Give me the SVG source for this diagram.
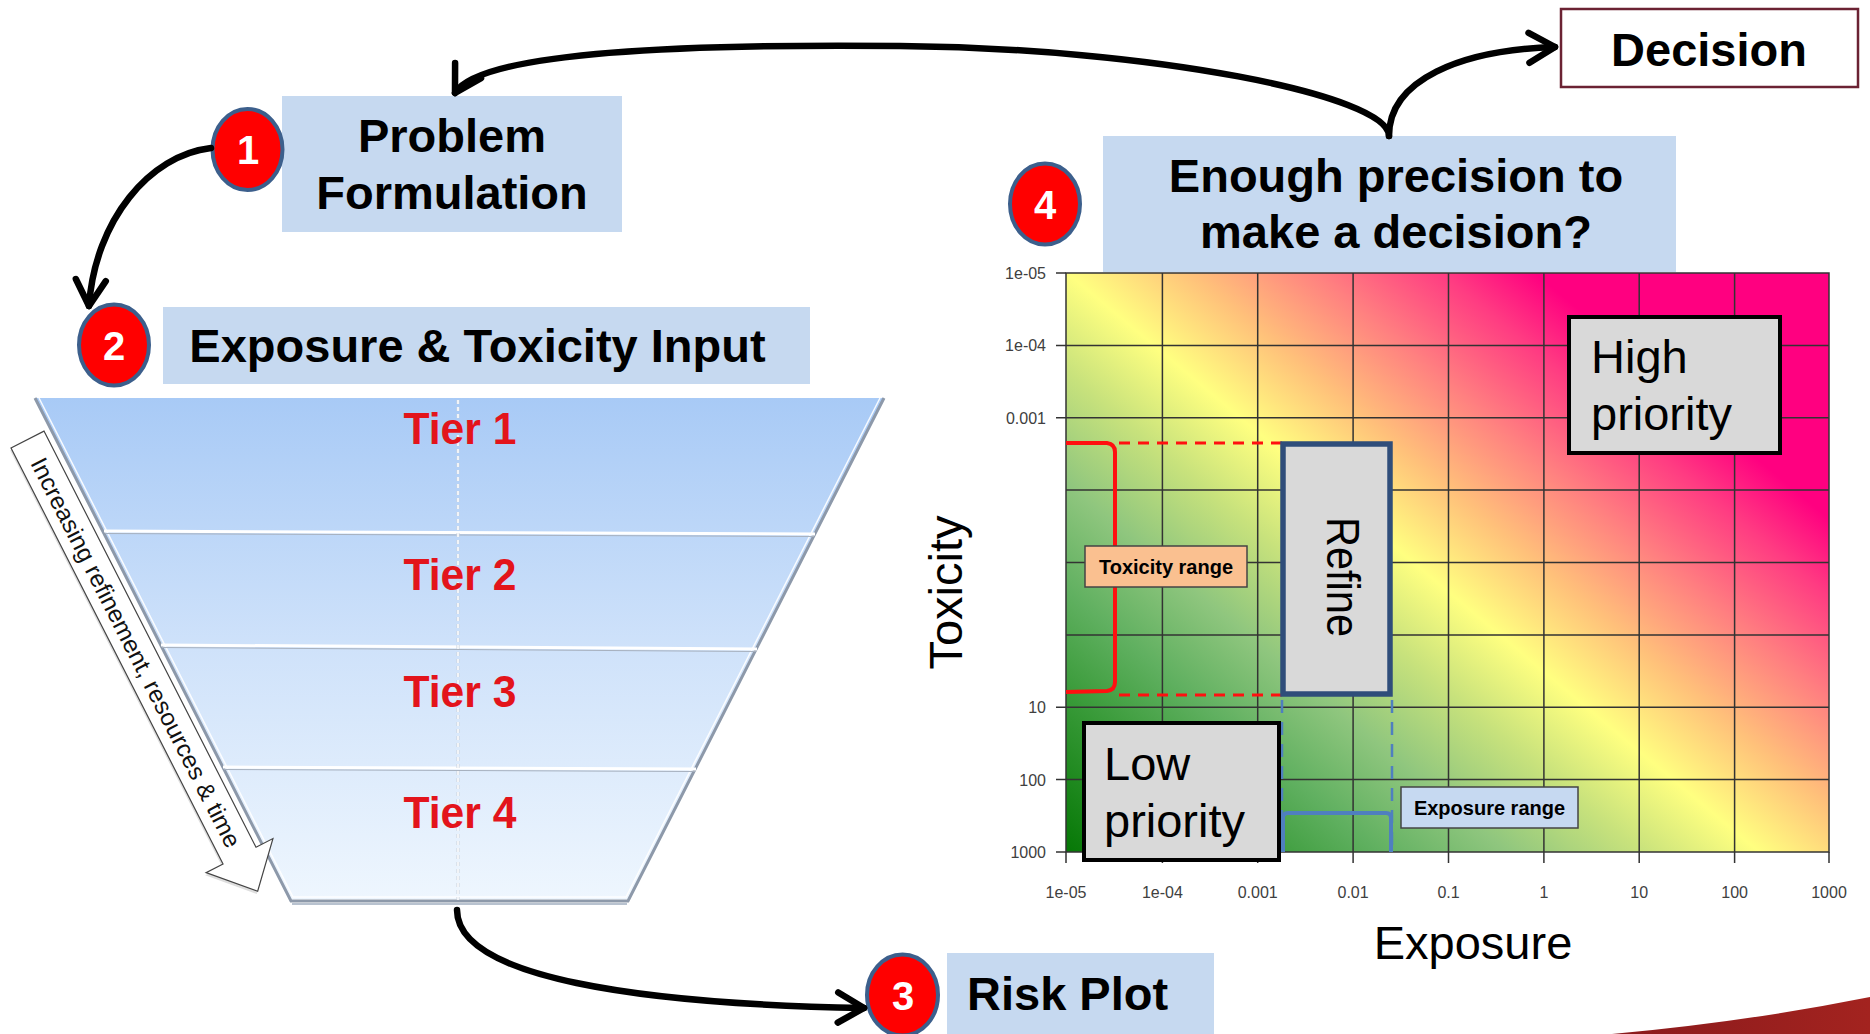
<svg xmlns="http://www.w3.org/2000/svg" width="1870" height="1034" viewBox="0 0 1870 1034">
<style>
text{font-family:"Liberation Sans",Arial,sans-serif}
.box{fill:#c6d9f0}
.hb{font-weight:bold;font-size:47px;fill:#000}
.num{font-weight:bold;font-size:40px;fill:#fff;text-anchor:middle}
.badge{fill:#ff0000;stroke:#3c5f8c;stroke-width:4}
.tier{font-weight:bold;font-size:44px;fill:#e3141b;text-anchor:middle}
.grid{stroke:#333;stroke-width:1.5;fill:none}
.tick{font-size:16px;fill:#404040}
.gbox{fill:#d9d9d9;stroke:#000;stroke-width:4}
.big{font-size:47px;fill:#000}
.conn{fill:none;stroke:#000;stroke-width:6.5;stroke-linecap:round}
</style>
<defs>
<marker id="arr" markerUnits="userSpaceOnUse" markerWidth="70" markerHeight="70" viewBox="-35 -35 70 70" refX="0" refY="0" orient="auto" overflow="visible">
<path d="M-26,-15 L0,0 L-26,15" fill="none" stroke="#000" stroke-width="6.5" stroke-linecap="round" stroke-linejoin="round"/>
</marker>
<linearGradient id="heat" gradientUnits="userSpaceOnUse" x1="784.5" y1="616.3" x2="1262.5" y2="44.9">
<stop offset="0" stop-color="#067806"/>
<stop offset="0.162" stop-color="#389a38"/>
<stop offset="0.269" stop-color="#60b060"/>
<stop offset="0.379" stop-color="#8fc67e"/>
<stop offset="0.495" stop-color="#c8e27c"/>
<stop offset="0.597" stop-color="#ffff80"/>
<stop offset="0.705" stop-color="#ffc07a"/>
<stop offset="0.812" stop-color="#ff8080"/>
<stop offset="0.92" stop-color="#ff3c82"/>
<stop offset="1" stop-color="#ff0080"/>
</linearGradient>
<linearGradient id="fun" x1="0" y1="0" x2="0" y2="1">
<stop offset="0" stop-color="#a8caf6"/>
<stop offset="0.5" stop-color="#cfe2fa"/>
<stop offset="1" stop-color="#eef6fe"/>
</linearGradient>
<linearGradient id="swoosh" x1="0" y1="0" x2="1" y2="0">
<stop offset="0" stop-color="#8a1a1c"/>
<stop offset="1" stop-color="#a3231f"/>
</linearGradient>
</defs>

<!-- funnel -->
<g id="funnel">
<polygon points="35,398 884,398 628,899 290,899" fill="url(#fun)"/>
<polyline points="35,398 291,901 628,901 884,398" fill="none" stroke="#8d99aa" stroke-width="3"/>
<polyline points="39,398 293,897 626,897 880,398" fill="none" stroke="#ffffff" stroke-width="1.5" opacity="0.9"/>
<line x1="292" y1="904" x2="627" y2="904" stroke="#b8c2cf" stroke-width="2"/>
<g stroke="#ffffff" stroke-width="3">
<line x1="104" y1="531" x2="815" y2="534"/>
<line x1="161" y1="645" x2="757" y2="649"/>
<line x1="223" y1="767" x2="696" y2="769"/>
</g>
<g stroke="#a7b1bf" stroke-width="1">
<line x1="105" y1="533.5" x2="814" y2="536.5"/>
<line x1="162" y1="647.5" x2="756" y2="651.5"/>
<line x1="224" y1="769.5" x2="695" y2="771.5"/>
</g>
<line x1="458" y1="400" x2="458" y2="900" stroke="#c9d1dc" stroke-width="3" stroke-dasharray="4 3"/>
<line x1="458" y1="400" x2="458" y2="900" stroke="#ffffff" stroke-width="1.5" stroke-dasharray="4 3"/>
<text class="tier" x="460" y="444" textLength="113" lengthAdjust="spacingAndGlyphs">Tier 1</text>
<text class="tier" x="460" y="590" textLength="113" lengthAdjust="spacingAndGlyphs">Tier 2</text>
<text class="tier" x="460" y="707" textLength="113" lengthAdjust="spacingAndGlyphs">Tier 3</text>
<text class="tier" x="460" y="828" textLength="113" lengthAdjust="spacingAndGlyphs">Tier 4</text>
</g>

<g id="refinement-arrow" transform="translate(27.5,439.5) rotate(63)">
<polygon points="2,-16.5 469,-16.5 469,-35.5 509,2 469,39.5 469,20.5 2,20.5" fill="#c8c8c8" opacity="0.6"/>
<polygon points="0,-18.5 467,-18.5 467,-37.5 507,0 467,37.5 467,18.5 0,18.5" fill="#ffffff" stroke="#444" stroke-width="1.2"/>
<text x="22" y="8.5" font-size="24" fill="#111" textLength="434" lengthAdjust="spacingAndGlyphs">Increasing refinement, resources &amp; time</text>
</g>

<!-- chart -->
<g id="risk-chart">
<rect x="1066" y="273" width="763" height="579" fill="url(#heat)"/>
<g class="grid">
<rect x="1066" y="273" width="763" height="579"/>
<path d="M1162.4,273V852M1257.7,273V852M1353.1,273V852M1448.5,273V852M1543.9,273V852M1639.2,273V852M1734.6,273V852"/>
<path d="M1066,345.4H1829M1066,417.8H1829M1066,490.1H1829M1066,562.5H1829M1066,634.9H1829M1066,707.3H1829M1066,779.6H1829"/>
<path d="M1056,273H1066M1056,345.4H1066M1056,417.8H1066M1056,707.3H1066M1056,779.6H1066M1056,852H1066"/>
<path d="M1066,852V863M1162.4,852V863M1257.7,852V863M1353.1,852V863M1448.5,852V863M1543.9,852V863M1639.2,852V863M1734.6,852V863M1829,852V863"/>
</g>
<g class="tick" text-anchor="end">
<text x="1046" y="279">1e-05</text>
<text x="1046" y="351">1e-04</text>
<text x="1046" y="424">0.001</text>
<text x="1046" y="713">10</text>
<text x="1046" y="786">100</text>
<text x="1046" y="858">1000</text>
</g>
<g class="tick" text-anchor="middle">
<text x="1066" y="898">1e-05</text>
<text x="1162.4" y="898">1e-04</text>
<text x="1257.7" y="898">0.001</text>
<text x="1353.1" y="898">0.01</text>
<text x="1448.5" y="898">0.1</text>
<text x="1543.9" y="898">1</text>
<text x="1639.2" y="898">10</text>
<text x="1734.6" y="898">100</text>
<text x="1829" y="898">1000</text>
</g>
<text class="big" text-anchor="middle" transform="translate(962,592.5) rotate(-90)">Toxicity</text>
<text class="big" x="1473" y="959" text-anchor="middle">Exposure</text>

<!-- toxicity range -->
<path d="M1066,443 L1107,443 Q1115,444 1115,452 L1115,682 Q1115,690 1107,691 L1066,692" fill="none" stroke="#ff1010" stroke-width="4"/>
<g stroke="#ff1010" stroke-width="3" stroke-dasharray="11 8">
<line x1="1119" y1="443" x2="1282" y2="443"/>
<line x1="1119" y1="695" x2="1282" y2="695"/>
</g>
<!-- exposure range -->
<g stroke="#4f7fbf" stroke-width="2.5" stroke-dasharray="13 9">
<line x1="1282" y1="700" x2="1282" y2="852"/>
<line x1="1392" y1="700" x2="1392" y2="852"/>
</g>
<path d="M1283,852 L1283,818 Q1283,813 1288,813 L1386,813 Q1391,813 1391,818 L1391,852" fill="none" stroke="#4f7fbf" stroke-width="4"/>
</g>

<g id="high-priority">
<rect class="gbox" x="1569" y="317" width="211" height="136"/>
<text class="big" x="1591" y="373">High</text>
<text class="big" x="1591" y="430">priority</text>
</g>
<g id="low-priority">
<rect class="gbox" x="1084" y="723" width="195" height="137"/>
<text class="big" x="1104" y="780">Low</text>
<text class="big" x="1104" y="837">priority</text>
</g>
<g id="refine">
<rect x="1283" y="444" width="107" height="250" fill="#d9d9d9" stroke="#2f4d7a" stroke-width="5.5"/>
<text class="big" font-size="46" text-anchor="middle" transform="translate(1327,577) rotate(90)" textLength="120" lengthAdjust="spacingAndGlyphs">Refine</text>
</g>
<g id="toxicity-range">
<rect x="1085" y="546" width="162" height="41" fill="#fac090" stroke="#444" stroke-width="1.5"/>
<text x="1166" y="574" font-size="20" font-weight="bold" text-anchor="middle" fill="#000">Toxicity range</text>
</g>
<g id="exposure-range">
<rect x="1401" y="787" width="177" height="41" fill="#c6d9f1" stroke="#444" stroke-width="1.5"/>
<text x="1489.5" y="815" font-size="20" font-weight="bold" text-anchor="middle" fill="#000">Exposure range</text>
</g>

<!-- nodes -->
<g id="problem-formulation">
<rect class="box" x="282" y="96" width="340" height="136"/>
<text class="hb" x="452" y="152" text-anchor="middle">Problem</text>
<text class="hb" x="452" y="209" text-anchor="middle">Formulation</text>
</g>
<g id="badge-1">
<ellipse class="badge" cx="247.5" cy="149.5" rx="35" ry="40.5"/>
<text class="num" x="248" y="164">1</text>
</g>
<g id="exposure-toxicity-input">
<rect class="box" x="163" y="307" width="647" height="77"/>
<text class="hb" x="477.5" y="362" text-anchor="middle">Exposure &amp; Toxicity Input</text>
</g>
<g id="badge-2">
<ellipse class="badge" cx="114" cy="345" rx="35" ry="40.5"/>
<text class="num" x="114" y="359.5">2</text>
</g>
<g id="risk-plot">
<rect class="box" x="947" y="953" width="267" height="81"/>
<text class="hb" x="967" y="1010">Risk Plot</text>
</g>
<g id="badge-3">
<ellipse class="badge" cx="902.5" cy="995" rx="35.5" ry="40.5"/>
<text class="num" x="903" y="1010">3</text>
</g>
<g id="precision-question">
<rect class="box" x="1103" y="136" width="573" height="136"/>
<text class="hb" x="1396" y="192" text-anchor="middle">Enough precision to</text>
<text class="hb" x="1396" y="248" text-anchor="middle">make a decision?</text>
</g>
<g id="badge-4">
<ellipse class="badge" cx="1045" cy="204" rx="35" ry="40.5"/>
<text class="num" x="1045" y="218.5">4</text>
</g>
<g id="decision">
<rect x="1561" y="9" width="297" height="78" fill="#fff" stroke="#6b2233" stroke-width="2.5"/>
<text class="hb" x="1709" y="66" text-anchor="middle">Decision</text>
</g>

<!-- connectors -->
<g id="connectors">
<path class="conn" d="M211,148 C150,155 95,220 89,306" marker-end="url(#arr)"/>
<path class="conn" d="M1389,136 C1389,95 1150,48 900,46 C700,44 480,50 455,93" marker-end="url(#arr)"/>
<path class="conn" d="M1389,136 C1389,80 1460,50 1555,47" marker-end="url(#arr)"/>
<path class="conn" d="M457,910 C457,978 640,1004 864,1008" marker-end="url(#arr)"/>
</g>

<path id="corner-swoosh" d="M1612,1034 Q1745,1022 1870,997 L1870,1034 Z" fill="url(#swoosh)"/>
</svg>
